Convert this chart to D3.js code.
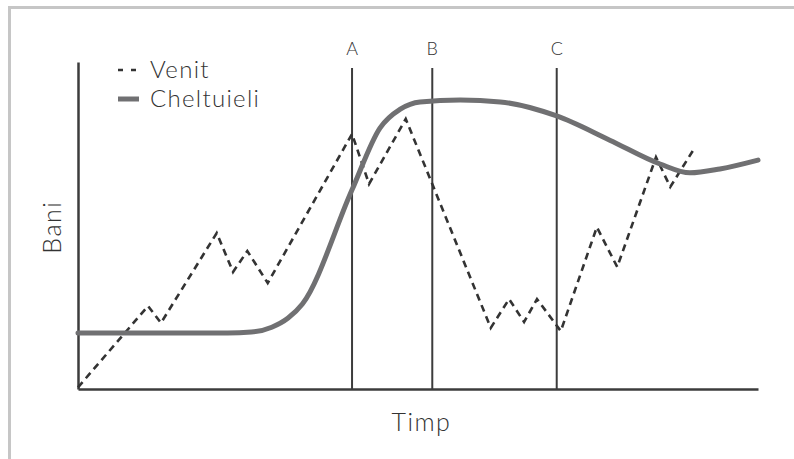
<!DOCTYPE html>
<html>
<head>
<meta charset="utf-8">
<script src="https://cdn.jsdelivr.net/npm/d3@7"></script>
<style>
  body { margin: 0; background: #fff; }
  text { font-family: Lato, "Open Sans", sans-serif; font-weight: 300; fill: #333; }
</style>
</head>
<body>
<div id="chart"></div>
<script>
// time (0-100) / money (0-100)
var venitT = [0, 10.3, 12.2, 20.4, 22.8, 24.9, 27.9, 40.3, 42.8, 48.2, 60.7, 63.4, 65.6, 67.5, 71.0, 76.3, 79.3, 85.0, 87.1, 90.4];
var venitV = [0.5, 25.4, 20.2, 47.7, 35.8, 42.2, 32.4, 78.0, 62.7, 82.6, 18.7, 27.5, 20.5, 27.5, 17.7, 49.5, 37.3, 70.9, 61.8, 72.8];

var cheltT = [0, 22.0, 25.5, 28.5, 30.9, 33.0, 40.3, 44.4, 47.4, 50.3, 56.2, 62.1, 70.4, 78.2, 85.6, 90.0, 94.4, 100];
var cheltV = [17.1, 17.1, 17.4, 18.9, 21.7, 26.0, 60.9, 79.8, 85.6, 87.8, 88.4, 87.8, 83.5, 76.1, 68.8, 66.1, 67.3, 70.0];

var markerLabels = ["A", "B", "C"];
var markerT = [40.3, 52.1, 70.4];

var legendLabels = ["Venit", "Cheltuieli"];

var W = 794, H = 459;
var margin = { top: 62, right: 36, bottom: 70, left: 78 };
var width = W - margin.left - margin.right,
    height = H - margin.top - margin.bottom;

var svg = d3.select("#chart").append("svg")
    .attr("width", W)
    .attr("height", H);

// light frame on the left and top
svg.append("path")
    .attr("d", "M9.5," + H + " V7.5 H" + W)
    .attr("fill", "none")
    .attr("stroke", "#c6c6c6")
    .attr("stroke-width", 3);

var g = svg.append("g")
    .attr("transform", "translate(" + margin.left + "," + margin.top + ")");

var x = d3.scaleLinear().domain([0, 100]).range([0, width]);
var y = d3.scaleLinear().domain([0, 100]).range([height, 0]);

// marker lines
var markers = g.selectAll(".marker")
    .data(markerT.map(function(t, i) { return { t: t, label: markerLabels[i] }; }))
    .enter().append("g")
    .attr("class", "marker");

markers.append("line")
    .attr("x1", function(d) { return x(d.t); })
    .attr("x2", function(d) { return x(d.t); })
    .attr("y1", y(98.2))
    .attr("y2", y(0))
    .attr("stroke", "#3c3c3c")
    .attr("stroke-width", 2);

markers.append("text")
    .attr("x", function(d) { return x(d.t); })
    .attr("y", y(98.2) - 13)
    .attr("text-anchor", "middle")
    .style("font-size", "18px")
    .text(function(d) { return d.label; });

// axes (no ticks)
var xAxis = d3.axisBottom(x).tickValues([]).tickSizeOuter(0);
var yAxis = d3.axisLeft(y).tickValues([]).tickSizeOuter(0);

g.append("g").attr("class", "x-axis")
    .attr("transform", "translate(0," + height + ")")
    .call(xAxis);
g.append("g").attr("class", "y-axis")
    .call(yAxis);
g.selectAll(".x-axis path, .y-axis path")
    .attr("stroke", "#3c3c3c")
    .attr("stroke-width", 2.5);

// series
var cheltData = cheltT.map(function(t, i) { return [t, cheltV[i]]; });
var venitData = venitT.map(function(t, i) { return [t, venitV[i]]; });

var smooth = d3.line()
    .x(function(d) { return x(d[0]); })
    .y(function(d) { return y(d[1]); })
    .curve(d3.curveMonotoneX);

var straight = d3.line()
    .x(function(d) { return x(d[0]); })
    .y(function(d) { return y(d[1]); });

g.append("path")
    .datum(venitData)
    .attr("fill", "none")
    .attr("stroke", "#333")
    .attr("stroke-width", 2.6)
    .attr("stroke-dasharray", "7,5")
    .attr("d", straight);

g.append("path")
    .datum(cheltData)
    .attr("fill", "none")
    .attr("stroke", "#707072")
    .attr("stroke-width", 5)
    .attr("stroke-linecap", "round")
    .attr("d", smooth);

// axis titles
svg.append("text")
    .attr("x", margin.left + x(50.5))
    .attr("y", 431)
    .attr("text-anchor", "middle")
    .style("font-size", "25px")
    .style("letter-spacing", "1.5px")
    .text("Timp");

svg.append("text")
    .attr("transform", "translate(61," + (margin.top + y(49.5)) + ") rotate(-90)")
    .attr("text-anchor", "middle")
    .style("font-size", "25px")
    .style("letter-spacing", "1.5px")
    .text("Bani");

// legend
var legend = svg.append("g").attr("transform", "translate(118,70)");
legend.append("line")
    .attr("x1", 0).attr("x2", 20).attr("y1", 0).attr("y2", 0)
    .attr("stroke", "#333").attr("stroke-width", 2.6)
    .attr("stroke-dasharray", "5,8");
legend.append("line")
    .attr("x1", 0).attr("x2", 21).attr("y1", 29).attr("y2", 29)
    .attr("stroke", "#707072").attr("stroke-width", 5);
legend.selectAll(".lbl")
    .data(legendLabels)
    .enter().append("text")
    .attr("class", "lbl")
    .attr("x", 32)
    .attr("y", function(d, i) { return 8 + i * 29; })
    .style("font-size", "24px")
    .style("letter-spacing", "1.3px")
    .text(function(d) { return d; });
</script>
</body>
</html>
